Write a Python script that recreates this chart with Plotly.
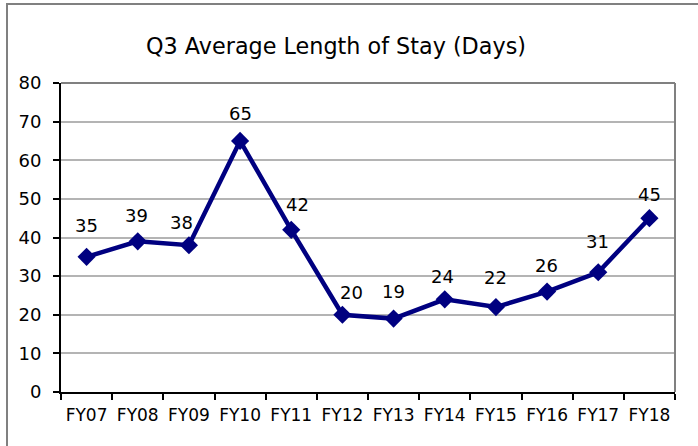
import plotly.graph_objects as go

categories = ["FY07", "FY08", "FY09", "FY10", "FY11", "FY12", "FY13", "FY14", "FY15", "FY16", "FY17", "FY18"]
values = [35, 39, 38, 65, 42, 20, 19, 24, 22, 26, 31, 45]
y_ticks = [0, 10, 20, 30, 40, 50, 60, 70, 80]
title_text = "Q3 Average Length of Stay (Days)"

# small pixel nudges of the value labels (styling only)
label_dx = [0, -1, -7, 0, 6, 9, 0, -2, 0, -1, -1, 0]
label_dy = [31, 26, 23, 27, 25, 22, 27, 23, 30, 26, 31, 24]

FONT = "DejaVu Sans"
NAVY = "#000080"

fig = go.Figure()
fig.add_trace(go.Scatter(
    x=categories, y=values, mode="lines+markers",
    line=dict(color=NAVY, width=4.5),
    marker=dict(symbol="diamond", size=14, color=NAVY),
    cliponaxis=False, showlegend=False, hoverinfo="skip",
))

for c, v, dx, dy in zip(categories, values, label_dx, label_dy):
    fig.add_annotation(x=c, y=v, text=str(v), showarrow=False, xshift=dx, yshift=dy,
                       font=dict(family=FONT, size=18, color="#000000"))

fig.update_layout(
    width=698, height=446,
    margin=dict(l=61, r=23, t=83, b=54, autoexpand=False),
    paper_bgcolor="white", plot_bgcolor="white",
    title=dict(text=title_text, x=336 / 698, xanchor="center", y=1 - 46 / 446, yanchor="middle",
               font=dict(family=FONT, size=22.3, color="#000000")),
    font=dict(family=FONT, color="#000000"),
)
fig.update_xaxes(
    type="category", range=[-0.5, 11.5], automargin=False,
    showline=True, linecolor="#000000", linewidth=2,
    mirror=False, showgrid=False,
    ticks="outside", ticklen=6, tickcolor="#000000", tickwidth=1.5,
    tickson="boundaries", tickangle=0, ticklabelstandoff=7,
    tickfont=dict(family=FONT, size=17, color="#000000"),
)
fig.update_yaxes(
    range=[0, 80], tickvals=y_ticks, automargin=False,
    showline=True, linecolor="#000000", linewidth=2,
    showgrid=True, gridcolor="#b4b4b4", gridwidth=1.5,
    ticks="outside", ticklen=6, tickcolor="#000000", tickwidth=1.5,
    ticklabelstandoff=8,
    tickfont=dict(family=FONT, size=18, color="#000000"),
    zeroline=False,
)
# plot-area border (top/right) and outer chart frame
fig.add_shape(type="line", xref="paper", yref="paper", x0=0, x1=1, y0=1, y1=1,
              line=dict(color="#808080", width=2))
fig.add_shape(type="line", xref="paper", yref="paper", x0=1, x1=1, y0=0, y1=1,
              line=dict(color="#808080", width=2))
fig.add_shape(type="rect", xref="paper", yref="paper",
              x0=(7 - 61) / 614, x1=(720 - 61) / 614,
              y0=(392 - 460) / 309, y1=(392 - 4) / 309,
              line=dict(color="#808080", width=2), layer="below")

fig.write_html("out.html", config={"displayModeBar": False},
               post_script="document.body.style.margin='0';document.body.style.overflow='hidden';")
